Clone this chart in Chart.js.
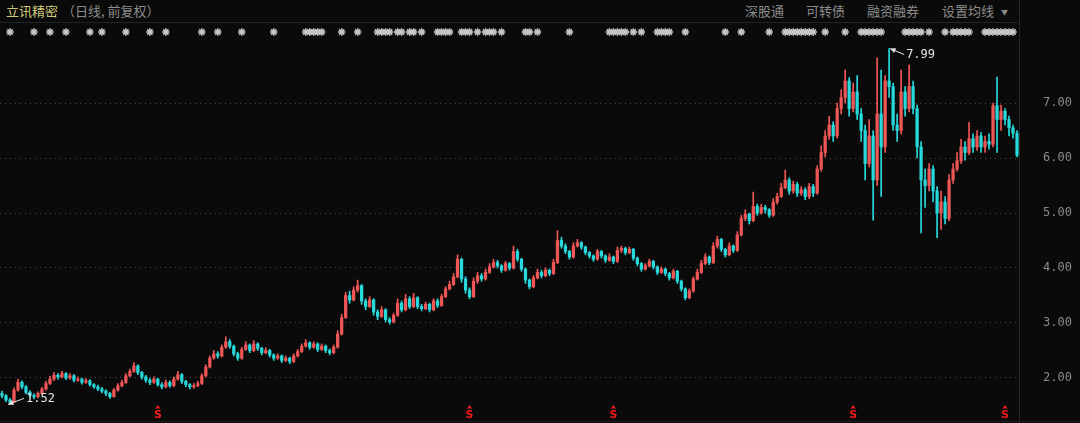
<!DOCTYPE html>
<html>
<head>
<meta charset="utf-8">
<script src="https://cdn.jsdelivr.net/npm/chart.js@4/dist/chart.umd.min.js"></script>
<style>
  body { margin: 0; background: #0a0a0a; width: 1080px; height: 423px; overflow: hidden; position: relative; }
  .t { position: absolute; top: 2px; font-family: "Noto Sans CJK SC", "Noto Sans", sans-serif; font-size: 13px; line-height: 18px; white-space: nowrap; color: #8c8c8c; }
  #title { left: 6px; color: #cfc97a; }
  #hline { position: absolute; left: 0; top: 22px; width: 1019px; height: 1px; background: #242424; }
  #vline { position: absolute; left: 1019px; top: 0; width: 1px; height: 423px; background: #262626; }
  #bline { position: absolute; left: 0; top: 421px; width: 1080px; height: 1px; background: #1e1e1e; }
  canvas { position: absolute; left: 0; top: 0; }
</style>
</head>
<body>
<div class="t" id="title">立讯精密</div>
<div class="t" style="left:62px">（日线, 前复权）</div>
<div class="t" style="left:745px">深股通</div>
<div class="t" style="left:806px">可转债</div>
<div class="t" style="left:867px">融资融券</div>
<div class="t" style="left:942px">设置均线</div>
<div class="t" style="left:1001px;top:3px;font-size:7px">▼</div>
<div id="hline"></div>
<div id="vline"></div>
<div id="bline"></div>
<canvas id="myChart" width="1080" height="423"></canvas>
<script>
// daily K line, forward adjusted; open of each bar = previous close
const firstOpen = 1.72;

const closes = [
  1.68,1.60,1.56,1.78,1.92,1.84,1.74,1.68,1.66,1.72,
  1.80,1.90,1.98,2.05,2.02,2.08,2.00,2.04,1.96,1.98,
  1.92,1.95,1.88,1.84,1.80,1.76,1.72,1.66,1.78,1.86,
  1.92,2.04,2.12,2.22,2.10,2.02,1.96,1.92,1.98,1.88,
  1.84,1.92,1.86,1.98,2.06,1.94,1.88,1.84,1.86,1.90,
  2.04,2.20,2.36,2.44,2.40,2.56,2.66,2.58,2.44,2.36,
  2.52,2.60,2.50,2.62,2.54,2.46,2.50,2.42,2.36,2.40,
  2.32,2.36,2.30,2.40,2.48,2.58,2.64,2.56,2.62,2.52,
  2.58,2.50,2.46,2.56,2.80,3.10,3.50,3.42,3.60,3.68,
  3.40,3.30,3.42,3.20,3.12,3.24,3.06,3.02,3.14,3.36,
  3.24,3.44,3.30,3.46,3.30,3.26,3.34,3.24,3.40,3.32,
  3.48,3.62,3.70,3.84,4.16,3.80,3.60,3.48,3.76,3.86,
  3.80,3.92,4.02,4.10,4.04,3.96,4.08,4.00,4.30,4.16,
  3.98,3.78,3.66,3.82,3.92,3.86,3.96,3.90,4.10,4.50,
  4.40,4.30,4.20,4.40,4.46,4.38,4.28,4.22,4.16,4.30,
  4.22,4.14,4.20,4.12,4.32,4.36,4.28,4.34,4.18,4.08,
  3.98,4.04,4.12,4.02,3.92,3.98,3.90,3.82,3.94,3.76,
  3.62,3.46,3.58,3.80,3.92,4.08,4.20,4.10,4.40,4.52,
  4.34,4.24,4.40,4.32,4.60,4.90,4.98,4.86,5.12,5.00,
  5.10,5.06,4.96,5.20,5.30,5.46,5.60,5.40,5.52,5.36,
  5.42,5.30,5.48,5.36,5.80,6.10,6.40,6.60,6.40,6.90,
  7.10,7.40,6.90,7.20,6.80,6.50,5.90,6.40,5.60,6.80,
  6.20,7.40,7.30,6.60,6.50,7.20,6.90,7.30,6.90,6.20,
  5.60,5.50,5.80,5.40,5.00,5.20,4.90,5.60,5.80,5.95,
  6.20,6.10,6.35,6.20,6.40,6.20,6.30,6.25,6.95,6.70,
  6.85,6.70,6.55,6.45,6.05
];

const highs = [
  1.76,1.70,1.63,1.82,1.98,1.95,1.86,1.77,1.71,1.75,
  1.83,1.94,2.03,2.10,2.08,2.12,2.10,2.08,2.06,2.02,
  2.00,1.99,1.97,1.90,1.87,1.83,1.79,1.74,1.81,1.90,
  1.96,2.08,2.16,2.28,2.24,2.12,2.05,1.99,2.02,2.00,
  1.91,1.96,1.95,2.02,2.12,2.08,1.96,1.90,1.90,1.94,
  2.08,2.24,2.40,2.50,2.48,2.60,2.75,2.70,2.60,2.47,
  2.56,2.66,2.62,2.68,2.64,2.56,2.55,2.52,2.44,2.44,
  2.42,2.40,2.38,2.44,2.52,2.62,2.70,2.66,2.66,2.64,
  2.62,2.60,2.53,2.60,2.86,3.16,3.56,3.58,3.66,3.78,
  3.70,3.44,3.48,3.44,3.24,3.30,3.26,3.10,3.18,3.44,
  3.40,3.52,3.48,3.54,3.48,3.34,3.38,3.36,3.44,3.44,
  3.52,3.66,3.76,3.90,4.24,4.18,3.84,3.64,3.82,3.92,
  3.90,3.98,4.08,4.16,4.14,4.06,4.12,4.10,4.40,4.34,
  4.18,4.00,3.80,3.86,3.98,3.96,4.00,3.98,4.16,4.68,
  4.56,4.44,4.32,4.46,4.52,4.48,4.40,4.30,4.24,4.34,
  4.32,4.24,4.26,4.22,4.38,4.40,4.38,4.38,4.36,4.20,
  4.10,4.08,4.16,4.14,4.04,4.02,4.00,3.92,3.98,3.96,
  3.78,3.64,3.62,3.84,3.98,4.14,4.26,4.22,4.46,4.58,
  4.54,4.36,4.46,4.42,4.66,4.96,5.06,5.00,5.38,5.16,
  5.16,5.14,5.08,5.26,5.36,5.54,5.78,5.64,5.58,5.56,
  5.48,5.46,5.54,5.52,5.86,6.22,6.50,6.76,6.66,7.00,
  7.24,7.60,7.46,7.36,7.50,6.90,6.60,6.70,6.50,7.82,
  7.60,7.50,7.99,7.36,6.80,7.60,7.30,7.69,7.40,6.96,
  6.30,5.80,5.90,5.86,5.48,5.40,5.30,5.70,5.90,6.10,
  6.34,6.30,6.65,6.44,6.50,6.46,6.40,6.44,7.00,7.47,
  6.96,6.90,6.76,6.60,6.50
];

const lows = [
  1.64,1.57,1.52,1.55,1.76,1.80,1.71,1.65,1.62,1.64,
  1.70,1.78,1.88,1.95,1.98,2.00,1.97,1.98,1.93,1.94,
  1.89,1.90,1.85,1.81,1.77,1.73,1.68,1.63,1.65,1.76,
  1.84,1.90,2.02,2.10,2.06,1.98,1.92,1.88,1.90,1.85,
  1.80,1.82,1.83,1.84,1.96,1.90,1.84,1.80,1.81,1.84,
  1.88,2.02,2.18,2.34,2.36,2.38,2.54,2.54,2.40,2.32,
  2.34,2.50,2.46,2.48,2.50,2.42,2.44,2.38,2.32,2.34,
  2.28,2.30,2.26,2.28,2.38,2.46,2.56,2.52,2.54,2.48,
  2.50,2.46,2.42,2.44,2.54,2.78,3.08,3.36,3.40,3.56,
  3.34,3.24,3.28,3.14,3.06,3.10,3.02,2.98,3.00,3.12,
  3.20,3.22,3.26,3.28,3.26,3.22,3.24,3.20,3.22,3.28,
  3.30,3.46,3.60,3.68,3.82,3.74,3.54,3.44,3.46,3.72,
  3.76,3.78,3.90,4.00,4.00,3.92,3.94,3.96,3.98,4.12,
  3.94,3.72,3.62,3.64,3.80,3.82,3.84,3.86,3.88,4.08,
  4.36,4.26,4.16,4.18,4.38,4.34,4.24,4.18,4.12,4.14,
  4.18,4.10,4.12,4.08,4.10,4.28,4.24,4.26,4.14,4.04,
  3.94,3.96,4.02,3.98,3.88,3.90,3.86,3.78,3.80,3.72,
  3.58,3.42,3.44,3.56,3.78,3.90,4.06,4.06,4.08,4.36,
  4.30,4.20,4.22,4.28,4.30,4.58,4.86,4.80,4.84,4.96,
  4.98,5.00,4.92,4.94,5.16,5.28,5.44,5.34,5.36,5.30,
  5.32,5.24,5.26,5.30,5.34,5.76,6.02,6.34,6.30,6.36,
  6.80,7.00,6.76,6.84,6.70,6.30,5.60,5.84,4.87,5.50,
  5.30,6.10,7.10,6.50,6.30,6.44,6.76,6.84,6.80,6.00,
  4.64,5.10,5.40,5.20,4.55,4.70,4.80,4.86,5.54,5.76,
  5.90,5.96,6.06,6.10,6.14,6.10,6.10,6.16,6.20,6.10,
  6.50,6.60,6.40,6.36,6.02
];

// bars carrying an info marker (top row) and an "S" marker (bottom row)
const newsIdx = [2,8,12,16,22,25,31,37,41,50,54,60,68,76,77,78,79,80,85,89,
  94,95,96,97,99,100,102,103,105,109,110,111,112,115,116,117,119,121,122,123,125,
  131,132,134,142,152,153,154,155,156,158,160,164,165,166,167,171,181,185,192,
  196,197,198,199,200,201,202,203,206,211,215,216,217,218,219,220,
  226,227,228,229,230,232,236,238,239,240,241,242,246,247,248,249,250,251,252,253];
const sIdx = [39,117,153,213,251];

const yTicks = [2, 3, 4, 5, 6, 7];

const UP = '#ef5656';
const DOWN = '#27d9dc';

const opens = closes.map((c, i) => i === 0 ? firstOpen : closes[i - 1]);
const barColors = closes.map((c, i) => c >= opens[i] ? UP : DOWN);
const bodies = closes.map((c, i) => [opens[i], c]);
const wicks = closes.map((c, i) => [lows[i], highs[i]]);

function drawStar(ctx, cx, cy, r) {
    ctx.beginPath();
    for (let k = 0; k < 4; k++) {
        const a = k * Math.PI / 4;
        ctx.moveTo(cx + r * Math.cos(a), cy + r * Math.sin(a));
        ctx.lineTo(cx - r * Math.cos(a), cy - r * Math.sin(a));
    }
    ctx.stroke();
}

function drawTag(ctx, x0, y0, x1, y1, text) {
    // thin arrow pointing at the extreme price, label at the tail
    ctx.strokeStyle = '#e6e6e6';
    ctx.fillStyle = '#e6e6e6';
    ctx.lineWidth = 1;
    ctx.beginPath();
    ctx.moveTo(x0, y0);
    ctx.lineTo(x1, y1);
    ctx.stroke();
    const a = Math.atan2(y1 - y0, x1 - x0);
    ctx.beginPath();
    ctx.moveTo(x0, y0);
    ctx.lineTo(x0 + 6 * Math.cos(a - 0.45), y0 + 6 * Math.sin(a - 0.45));
    ctx.lineTo(x0 + 6 * Math.cos(a + 0.45), y0 + 6 * Math.sin(a + 0.45));
    ctx.closePath();
    ctx.fill();
    ctx.font = '12px "DejaVu Sans Mono"';
    ctx.textAlign = 'left';
    ctx.textBaseline = 'middle';
    ctx.fillText(text, x1 + 2, y1);
}

const overlay = {
    id: 'overlay',
    afterDraw(chart) {
        const ctx = chart.ctx;
        const xs = chart.scales.x;
        const ys = chart.scales.y;
        ctx.save();

        // price labels of the right axis
        ctx.fillStyle = '#8a8a8a';
        ctx.font = '12px "DejaVu Sans Mono"';
        ctx.textAlign = 'left';
        ctx.textBaseline = 'middle';
        yTicks.forEach(v => ctx.fillText(v.toFixed(2), chart.chartArea.right + 24, ys.getPixelForValue(v)));

        ctx.strokeStyle = '#c6c6c6';
        ctx.lineWidth = 1.6;
        newsIdx.forEach(i => drawStar(ctx, xs.getPixelForValue(i), 32, 3.8));

        ctx.fillStyle = '#f21c1c';
        ctx.font = 'bold 11px "DejaVu Sans"';
        ctx.textAlign = 'center';
        sIdx.forEach(i => {
            const px = xs.getPixelForValue(i);
            ctx.beginPath();
            ctx.moveTo(px, 405);
            ctx.lineTo(px - 2.5, 408.5);
            ctx.lineTo(px + 2.5, 408.5);
            ctx.closePath();
            ctx.fill();
            ctx.fillText('S', px, 415);
        });

        const hiIdx = highs.indexOf(Math.max(...highs));
        const loIdx = lows.indexOf(Math.min(...lows));
        const hx = xs.getPixelForValue(hiIdx);
        const hy = ys.getPixelForValue(highs[hiIdx]);
        drawTag(ctx, hx + 1, hy, hx + 15, hy + 6, highs[hiIdx].toFixed(2));
        const lx = xs.getPixelForValue(loIdx);
        const ly = ys.getPixelForValue(lows[loIdx]);
        drawTag(ctx, lx - 2, ly, lx + 14, ly - 6, lows[loIdx].toFixed(2));

        ctx.restore();
    }
};

const ctx = document.getElementById('myChart').getContext('2d');
new Chart(ctx, {
    type: 'bar',
    data: {
        labels: closes.map((c, i) => i),
        datasets: [
            {
                label: 'wick',
                data: wicks,
                backgroundColor: barColors,
                barThickness: 1,
                grouped: false,
                order: 2
            },
            {
                label: 'body',
                data: bodies,
                backgroundColor: barColors,
                barThickness: 2.6,
                minBarLength: 1,
                grouped: false,
                order: 1
            }
        ]
    },
    options: {
        responsive: false,
        animation: false,
        events: [],
        layout: { padding: { top: 40, bottom: 10, left: 0, right: 0 } },
        plugins: {
            legend: { display: false },
            tooltip: { enabled: false }
        },
        scales: {
            x: { display: false },
            y: {
                position: 'right',
                min: 1.3636,
                max: 8.1455,
                afterBuildTicks: s => { s.ticks = yTicks.map(v => ({ value: v })); },
                afterFit: s => { s.width = 61; },
                ticks: { display: false },
                grid: { color: '#4e4e4e', lineWidth: 1, drawTicks: false },
                border: { display: false, dash: [1, 4] }
            }
        }
    },
    plugins: [overlay]
});
</script>
</body>
</html>
